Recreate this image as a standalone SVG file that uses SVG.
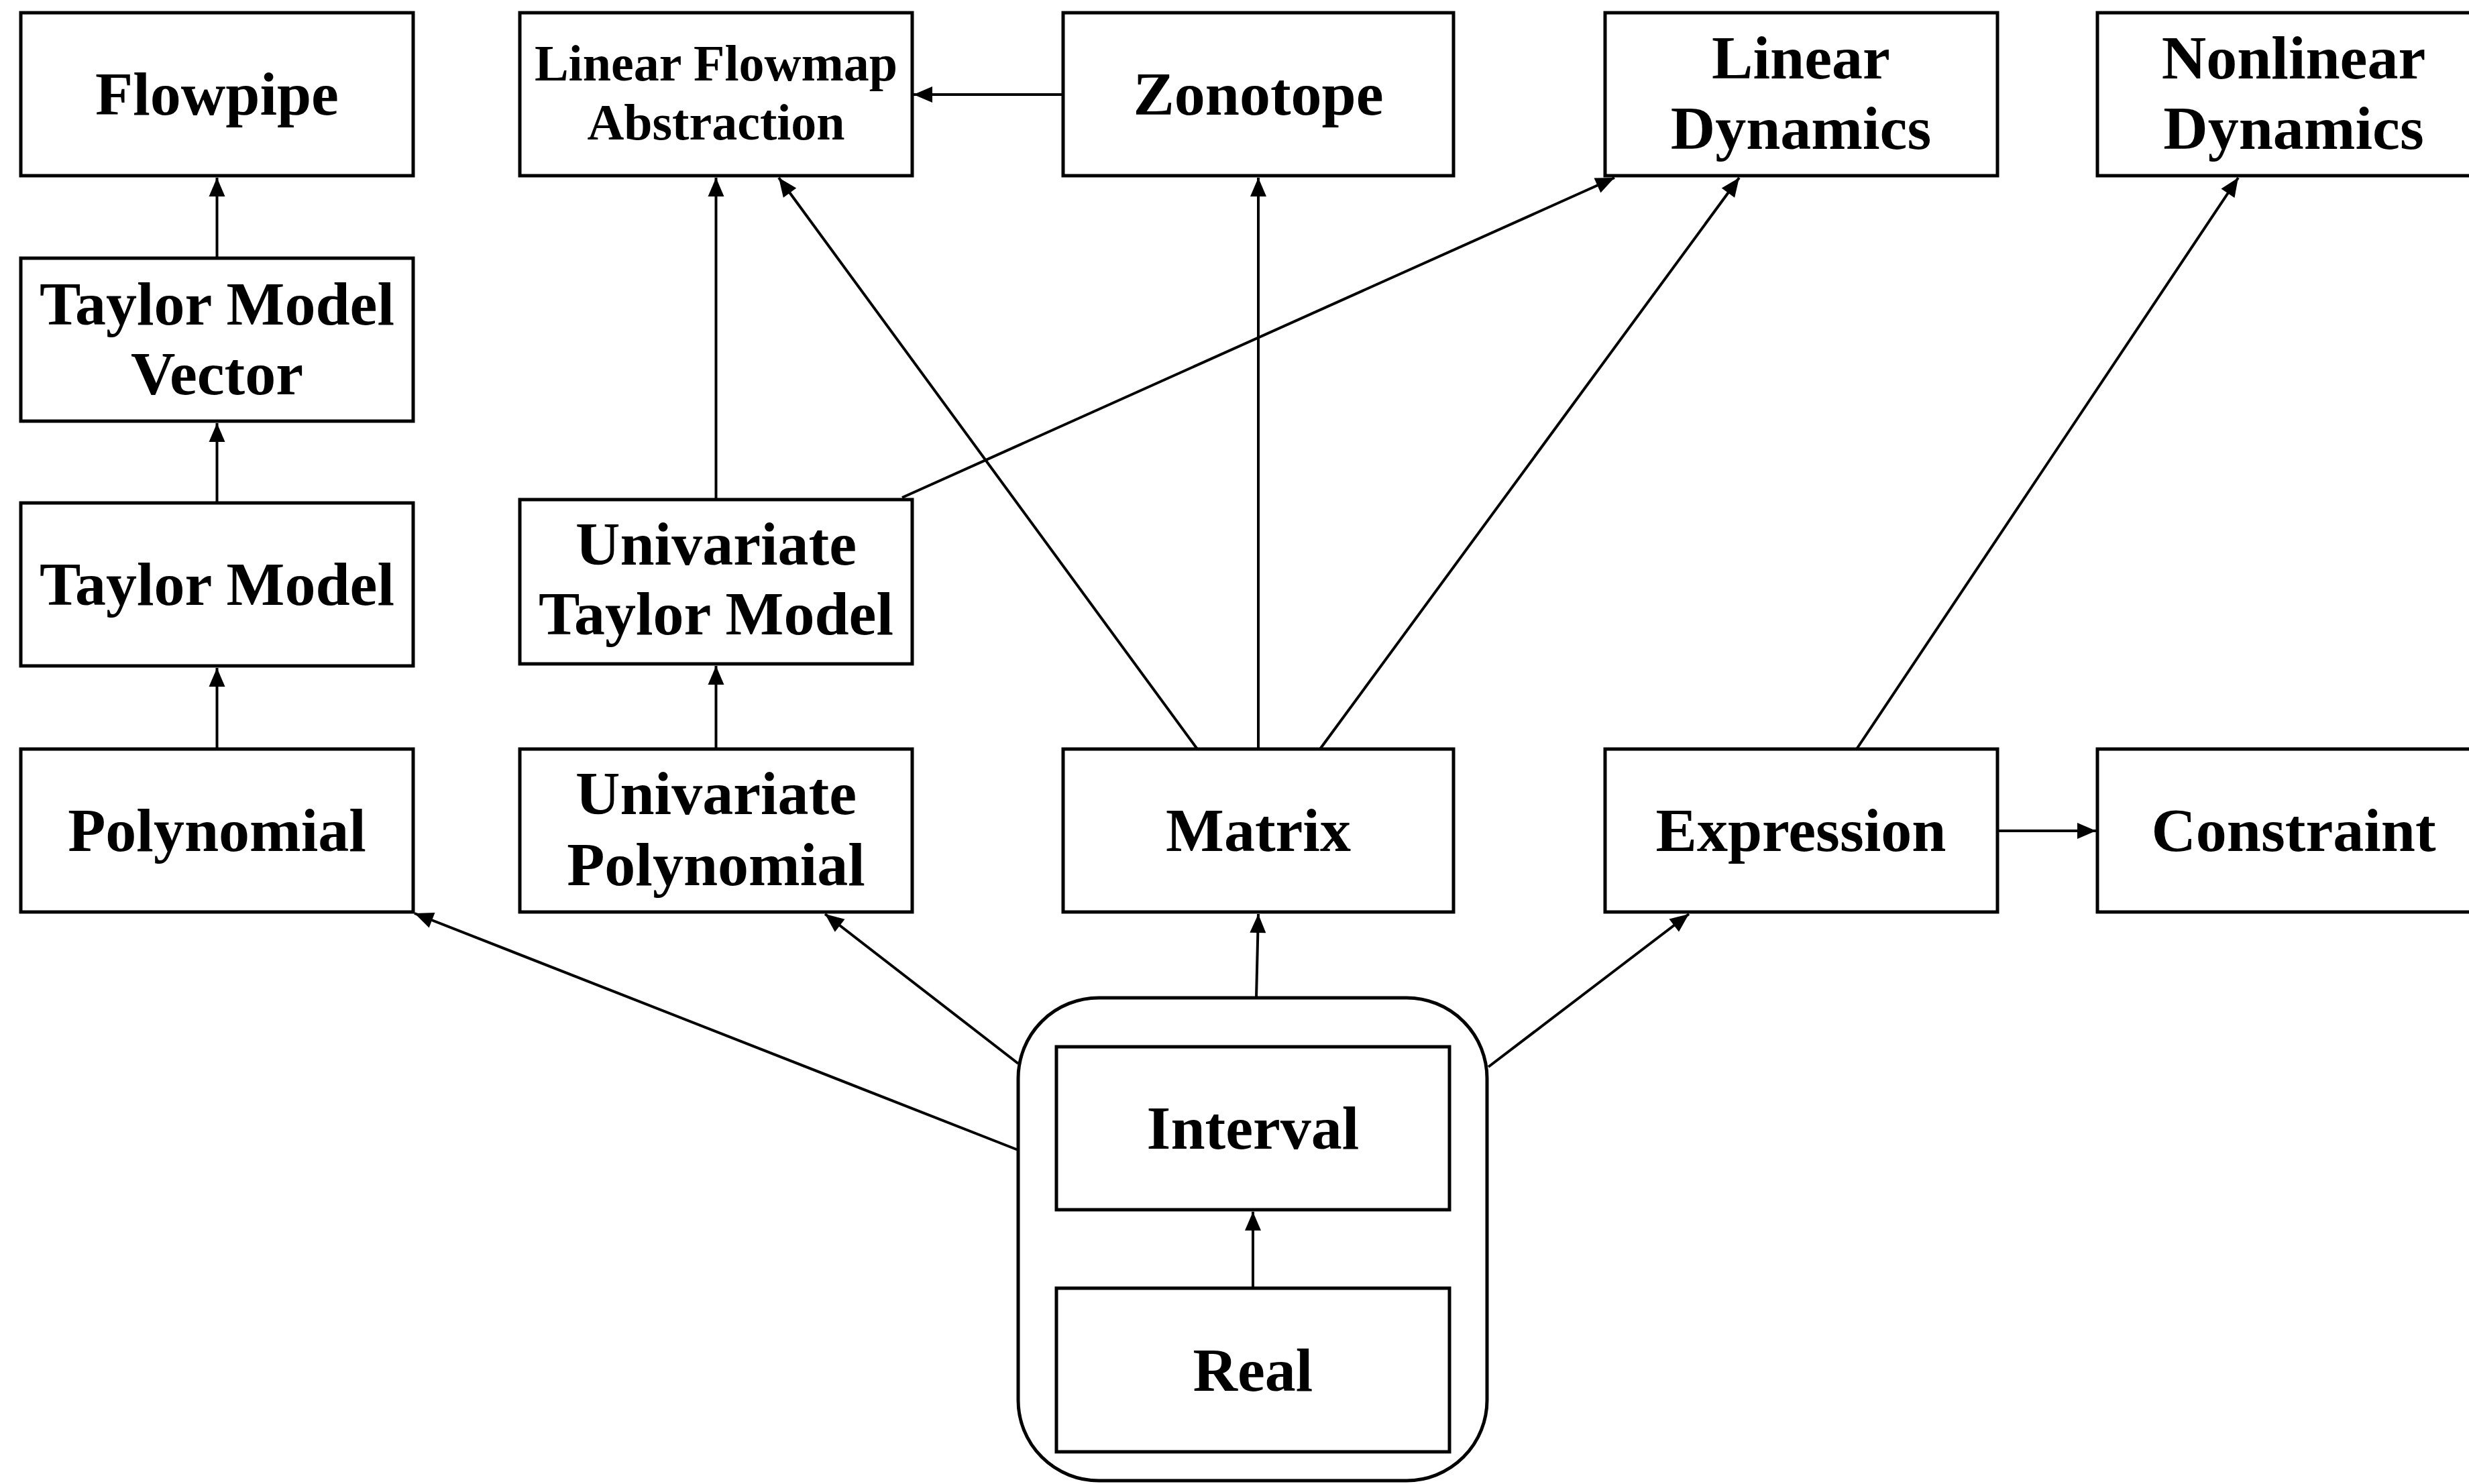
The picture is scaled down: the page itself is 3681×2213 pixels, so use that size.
<svg xmlns="http://www.w3.org/2000/svg" width="3681" height="2213" viewBox="0 0 3681 2213">
<style>
.box{fill:#fff;stroke:#000;stroke-width:5}
.grp{fill:none;stroke:#000;stroke-width:5}
.t{font-family:"Liberation Serif","Times New Roman",serif;font-weight:bold;font-size:92px;text-anchor:middle;fill:#000}
.s{font-size:76px}
.c{stroke:#000;stroke-width:4;fill:none;marker-end:url(#ah)}
</style>
<defs>
<marker id="ah" markerUnits="userSpaceOnUse" viewBox="-29 -13 30 26" refX="0" refY="0" markerWidth="30" markerHeight="26" orient="auto">
<path d="M0,0 L-28,-12 L-28,12 Z" fill="#000"/>
</marker>
</defs>
<rect width="3681" height="2213" fill="#fff"/>
<g id="flowpipe"><rect class="box" x="31" y="19" width="585" height="243"/><text class="t" x="323.5" y="171">Flowpipe</text></g>
<g id="lfm"><rect class="box" x="775" y="19" width="585" height="243"/><text class="t s" x="1067.5" y="120">Linear Flowmap</text><text class="t s" x="1067.5" y="208">Abstraction</text></g>
<g id="zonotope"><rect class="box" x="1585" y="19" width="582" height="243"/><text class="t" x="1876" y="171">Zonotope</text></g>
<g id="lineardyn"><rect class="box" x="2393" y="19" width="585" height="243"/><text class="t" x="2685" y="117">Linear</text><text class="t" x="2685" y="222">Dynamics</text></g>
<g id="nonlineardyn"><rect class="box" x="3127" y="19" width="585" height="243"/><text class="t" x="3419.5" y="117">Nonlinear</text><text class="t" x="3419.5" y="222">Dynamics</text></g>
<g id="tmv"><rect class="box" x="31" y="385" width="585" height="243"/><text class="t" x="323.5" y="484">Taylor Model</text><text class="t" x="323.5" y="588">Vector</text></g>
<g id="tm"><rect class="box" x="31" y="750" width="585" height="243"/><text class="t" x="323.5" y="902">Taylor Model</text></g>
<g id="utm"><rect class="box" x="775" y="745" width="585" height="245"/><text class="t" x="1067.5" y="842">Univariate</text><text class="t" x="1067.5" y="946">Taylor Model</text></g>
<g id="polynomial"><rect class="box" x="31" y="1117" width="585" height="243"/><text class="t" x="323.5" y="1269">Polynomial</text></g>
<g id="upoly"><rect class="box" x="775" y="1117" width="585" height="243"/><text class="t" x="1067.5" y="1214">Univariate</text><text class="t" x="1067.5" y="1320">Polynomial</text></g>
<g id="matrix"><rect class="box" x="1585" y="1117" width="582" height="243"/><text class="t" x="1876" y="1269">Matrix</text></g>
<g id="expression"><rect class="box" x="2393" y="1117" width="585" height="243"/><text class="t" x="2685" y="1269">Expression</text></g>
<g id="constraint"><rect class="box" x="3127" y="1117" width="585" height="243"/><text class="t" x="3419.5" y="1269">Constraint</text></g>
<g id="group"><rect class="grp" x="1518" y="1488" width="699" height="720" rx="120" ry="120"/></g>
<g id="interval"><rect class="box" x="1575" y="1561" width="586" height="243"/><text class="t" x="1868" y="1713">Interval</text></g>
<g id="real"><rect class="box" x="1575" y="1921" width="586" height="244"/><text class="t" x="1868" y="2074">Real</text></g>
<g id="connectors">
<path class="c" d="M323.5,385 L323.5,265"/>
<path class="c" d="M323.5,750 L323.5,631"/>
<path class="c" d="M323.5,1117 L323.5,996"/>
<path class="c" d="M1067.5,1117 L1067.5,993"/>
<path class="c" d="M1067.5,745 L1067.5,265"/>
<path class="c" d="M1345,742 L2407,265"/>
<path class="c" d="M1585,141 L1362,141"/>
<path class="c" d="M1785,1117 L1161,265"/>
<path class="c" d="M1876,1117 L1876,265"/>
<path class="c" d="M1968,1117 L2593,265"/>
<path class="c" d="M2768,1117 L3337,265"/>
<path class="c" d="M2977,1239 L3125,1239"/>
<path class="c" d="M1518,1715 L618,1362"/>
<path class="c" d="M1518,1586 L1230,1363"/>
<path class="c" d="M1873,1488 L1876,1363"/>
<path class="c" d="M2219,1591 L2518,1363"/>
<path class="c" d="M1868,1921 L1868,1807"/>
</g>
</svg>
